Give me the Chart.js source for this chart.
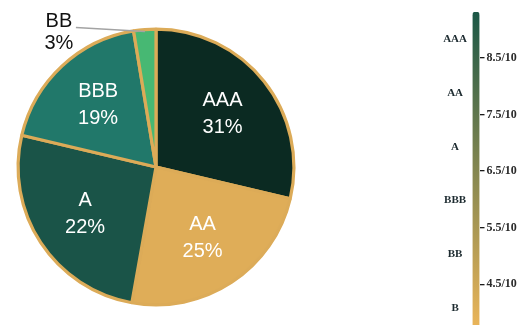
<!DOCTYPE html>
<html lang="en">
<head>
<meta charset="UTF-8">
<title>Rating mix</title>
<script src="https://cdn.jsdelivr.net/npm/chart.js@4.4.1/dist/chart.umd.min.js"></script>
<style>
  html, body { margin: 0; padding: 0; background: #fff; overflow: hidden; }
  .janela { position: relative; width: 532px; height: 325px; }
  #pizza { position: absolute; left: 0; top: 0; }
  #escala { position: absolute; left: 420px; top: 0; }
</style>
</head>
<body>
<div class="janela">
  <canvas id="pizza" width="312" height="325"></canvas>
  <canvas id="escala" width="112" height="325"></canvas>
</div>
<script>
// pie: slice sizes as drawn, and the printed percentages
const ratings = ['AAA', 'AA', 'A', 'BBB', 'BB'];
const shares = [28.7, 24.1, 25.9, 18.7, 2.6];
const shareLabels = ['31%', '25%', '22%', '19%', '3%'];

// right-hand rating scale
const scaleRatings = ['AAA', 'AA', 'A', 'BBB', 'BB', 'B'];
const scaleRatingLevels = [8.83, 7.88, 6.93, 5.98, 5.03, 4.07];
const scoreTicks = [8.5, 7.5, 6.5, 5.5, 4.5];
const scoreRange = [3.78, 9.31];

const sliceColors = ['#0b2a22', '#dfad58', '#1a5448', '#21786a', '#47b873'];
const gold = '#dcab58';

// labels inside the slices, small ones go outside with a leader line
const rotulos = {
  id: 'rotulos',
  afterDatasetsDraw(chart) {
    const ctx = chart.ctx;
    const arcs = chart.getDatasetMeta(0).data;
    ctx.save();
    ctx.font = '20px "Liberation Sans", Arial, sans-serif';
    ctx.textAlign = 'center';
    ctx.textBaseline = 'middle';
    arcs.forEach((arc, i) => {
      const p = arc.getProps(['x', 'y', 'startAngle', 'endAngle', 'outerRadius'], true);
      const meio = (p.startAngle + p.endAngle) / 2;
      if (shares[i] < 5) {
        const ex = p.x + Math.cos(meio) * (p.outerRadius - 2);
        const ey = p.y + Math.sin(meio) * (p.outerRadius - 2);
        ctx.strokeStyle = '#a3a3a3';
        ctx.lineWidth = 1.5;
        ctx.beginPath();
        ctx.moveTo(ex, ey);
        ctx.lineTo(ex - 69, ey - 4);
        ctx.stroke();
        ctx.fillStyle = '#111';
        ctx.fillText(ratings[i], ex - 86, ey - 10);
        ctx.fillText(shareLabels[i], ex - 86, ey + 12);
      } else {
        const r = p.outerRadius * 0.615;
        const x = p.x + Math.cos(meio) * r;
        const y = p.y + Math.sin(meio) * r;
        ctx.fillStyle = '#fff';
        ctx.fillText(ratings[i], x, y - 13.5);
        ctx.fillText(shareLabels[i], x, y + 13.5);
      }
    });
    ctx.restore();
  }
};

new Chart(document.getElementById('pizza'), {
  type: 'pie',
  data: {
    labels: ratings,
    datasets: [{
      data: shares,
      backgroundColor: sliceColors,
      borderColor: gold,
      borderWidth: 3.2,
      hoverOffset: 0
    }]
  },
  options: {
    responsive: false,
    animation: false,
    layout: { padding: { top: 27.5, bottom: 18.5, left: 16.5, right: 16.5 } },
    plugins: { legend: { display: false }, tooltip: { enabled: false } }
  },
  plugins: [rotulos]
});

const serif = { family: '"Liberation Serif", "DejaVu Serif", serif', size: 11, weight: 'bold' };

// fixed axis width, no extra room for the end labels
function fixar(s) {
  s.width = 52.5;
  s.paddingTop = 0;
  s.paddingBottom = 0;
}

new Chart(document.getElementById('escala'), {
  type: 'bar',
  data: {
    labels: ['nota'],
    datasets: [{
      data: [scoreRange],
      backgroundColor(c) {
        const { ctx, chartArea } = c.chart;
        if (!chartArea) return '#8a8450';
        const g = ctx.createLinearGradient(0, chartArea.top, 0, chartArea.bottom);
        g.addColorStop(0, '#1c5847');
        g.addColorStop(1, '#e9b459');
        return g;
      },
      borderSkipped: false,
      borderRadius: { topLeft: 3.5, topRight: 3.5, bottomLeft: 0, bottomRight: 0 },
      barPercentage: 1,
      categoryPercentage: 1
    }]
  },
  options: {
    responsive: false,
    animation: false,
    layout: { padding: { top: 12, bottom: 0, left: 0, right: 0 } },
    plugins: { legend: { display: false }, tooltip: { enabled: false } },
    scales: {
      x: { display: false },
      y: {
        position: 'left',
        min: scoreRange[0],
        max: scoreRange[1],
        afterFit: fixar,
        afterBuildTicks(s) { s.ticks = scaleRatingLevels.map(v => ({ value: v })); },
        grid: { display: false, drawTicks: false },
        border: { display: false },
        ticks: {
          autoSkip: false,
          crossAlign: 'center',
          padding: 5.5,
          font: serif,
          color: '#1d2b30',
          callback: (v, i) => scaleRatings[i]
        }
      },
      y2: {
        position: 'right',
        min: scoreRange[0],
        max: scoreRange[1],
        afterFit: fixar,
        afterBuildTicks(s) { s.ticks = scoreTicks.map(v => ({ value: v })); },
        grid: { drawOnChartArea: false, drawTicks: true, tickLength: 5, color: '#1a1a1a', lineWidth: 1.3 },
        border: { display: false },
        ticks: {
          autoSkip: false,
          padding: 2,
          font: { ...serif, size: 12 },
          color: '#2a2a2a',
          callback: v => v + '/10'
        }
      }
    }
  }
});
</script>
</body>
</html>
